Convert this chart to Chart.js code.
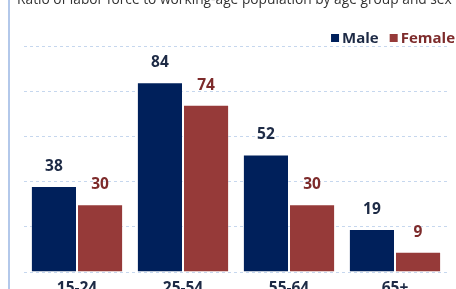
<!DOCTYPE html>
<html><head><meta charset="utf-8">
<script src="https://cdn.jsdelivr.net/npm/chart.js@4"></script>
<style>
html,body{margin:0;padding:0;background:#fff;overflow:hidden;width:456px;height:289px;}
#bar{position:absolute;left:8px;top:0;width:2px;height:289px;background:#b3c8ea;z-index:2;}
#title{position:absolute;left:17px;top:-11px;font:13.75px "Open Sans",sans-serif;color:#333;white-space:nowrap;z-index:2;}
#wrap{position:absolute;left:0;top:0;width:456px;height:300px;}
</style></head><body>
<div id="wrap"><canvas id="c" width="456" height="300"></canvas></div>
<div id="bar"></div>
<div id="title">Ratio of labor force to working-age population by age group and sex</div>
<script>
const categories = ["15-24", "25-54", "55-64", "65+"];
const maleValues = [38, 84, 52, 19];
const femaleValues = [30, 74, 30, 9];
const yTicks = [0, 20, 40, 60, 80, 100];
const seriesNames = ["Male", "Female"];

const maleColor = "#00205b";
const femaleColor = "#963a39";
const maleText = "#1d2a45";
const femaleText = "#7d2b2b";
const fontFam = "'Open Sans', Lato, sans-serif";
const boldFont = "bold 15px " + fontFam;
const labelFont = "bold 15.5px " + fontFam;

const valueLabels = {
  id: "valueLabels",
  afterDatasetsDraw(chart) {
    const ctx = chart.ctx;
    ctx.save();
    ctx.font = labelFont;
    ctx.textAlign = "center";
    ctx.textBaseline = "alphabetic";
    chart.data.datasets.forEach((ds, di) => {
      const meta = chart.getDatasetMeta(di);
      ctx.fillStyle = di === 0 ? maleText : femaleText;
      meta.data.forEach((bar, i) => {
        ctx.fillText(String(ds.data[i]), bar.x, bar.y - 15);
      });
    });
    ctx.restore();
  }
};

const customLegend = {
  id: "customLegend",
  afterDraw(chart) {
    const ctx = chart.ctx;
    ctx.save();
    ctx.font = boldFont;
    ctx.textBaseline = "alphabetic";
    ctx.textAlign = "left";
    let x = 455;
    const baseline = 43;
    const items = chart.data.datasets.map((ds, i) => ({
      text: ds.label, color: ds.backgroundColor, textColor: i === 0 ? maleText : femaleText
    }));
    for (let i = items.length - 1; i >= 0; i--) {
      const it = items[i];
      const w = ctx.measureText(it.text).width;
      const tx = x - w;
      ctx.fillStyle = it.textColor;
      ctx.fillText(it.text, tx, baseline);
      ctx.fillStyle = it.color;
      ctx.fillRect(tx - 11, 34, 8, 8);
      x = tx - 11 - 11;
    }
    ctx.restore();
  }
};

new Chart(document.getElementById("c"), {
  type: "bar",
  data: {
    labels: categories,
    datasets: [
      { label: seriesNames[0], data: maleValues, backgroundColor: maleColor, borderColor: "rgba(255,255,255,0.35)", borderWidth: 1 },
      { label: seriesNames[1], data: femaleValues, backgroundColor: femaleColor, borderColor: "rgba(255,255,255,0.35)", borderWidth: 1 }
    ]
  },
  options: {
    responsive: false,
    animation: false,
    layout: { padding: { left: 24, right: 8, top: 46, bottom: 0 } },
    datasets: { bar: { categoryPercentage: 0.87, barPercentage: 1.0 } },
    plugins: {
      legend: { display: false },
      tooltip: { enabled: false }
    },
    scales: {
      x: {
        grid: { display: false, drawTicks: false },
        border: { display: false },
        afterFit(axis) { axis.height = 28; },
        ticks: { color: maleText, padding: 7, font: { family: fontFam, size: 15.5, weight: "bold" } }
      },
      y: {
        min: 0, max: 100,
        afterBuildTicks(axis) { axis.ticks = yTicks.map(v => ({ value: v })); },
        afterFit(axis) { axis.width = 0; },
        ticks: { display: false },
        grid: { color: "#c6d7ee", drawTicks: false, lineWidth: 1 },
        border: { display: false, dash: [3, 3] }
      }
    }
  },
  plugins: [valueLabels, customLegend]
});
</script>
</body></html>
